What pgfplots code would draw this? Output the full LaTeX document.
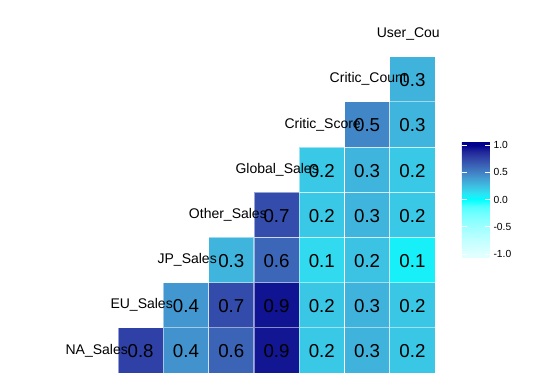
\documentclass[border=0pt]{standalone}
\usepackage{pgfplots}
\pgfplotsset{compat=1.18}
\usepackage{fontspec}
\setmainfont{Liberation Sans}
\pgfplotstableread{
x y r lab
1 1 0.77 0.8
2 1 0.43 0.4
3 1 0.63 0.6
4 1 0.93 0.9
5 1 0.21 0.2
6 1 0.30 0.3
7 1 0.22 0.2
2 2 0.41 0.4
3 2 0.73 0.7
4 2 0.94 0.9
5 2 0.22 0.2
6 2 0.30 0.3
7 2 0.22 0.2
3 3 0.29 0.3
4 3 0.61 0.6
5 3 0.145 0.1
6 3 0.24 0.2
7 3 0.06 0.1
4 4 0.72 0.7
5 4 0.21 0.2
6 4 0.29 0.3
7 4 0.21 0.2
5 5 0.21 0.2
6 5 0.29 0.3
7 5 0.21 0.2
6 6 0.48 0.5
7 6 0.29 0.3
7 7 0.30 0.3
}\corrtable
\pgfplotstableread{
x y name
0.721 1 NA\_Sales
1.714 2 EU\_Sales
2.685 3 JP\_Sales
3.789 4 Other\_Sales
4.937 5 Global\_Sales
5.864 6 Critic\_Score
6.879 7 Critic\_Count
7.608 8 User\_Cou
}\nametable
\begin{document}
\begin{tikzpicture}
\useasboundingbox (0,0) rectangle (544pt,385pt);
\begin{axis}[
  at={(118pt,12pt)}, anchor=south west,
  scale only axis, width=317.1pt, height=361.6pt,
  xmin=0.5, xmax=7.5, ymin=0.5, ymax=8.5,
  axis lines=none, xtick=\empty, ytick=\empty,
  clip=false,
  colormap={corr}{rgb255(0pt)=(224,255,255); rgb255(14pt)=(224,255,255); rgb255(39pt)=(209,255,255); rgb255(64pt)=(193,255,255); rgb255(89pt)=(176,255,255); rgb255(114pt)=(157,255,255); rgb255(139pt)=(136,255,255); rgb255(164pt)=(112,255,255); rgb255(189pt)=(79,255,255); rgb255(214pt)=(0,255,255); rgb255(239pt)=(48,223,241); rgb255(264pt)=(61,191,226); rgb255(289pt)=(66,160,212); rgb255(314pt)=(65,129,197); rgb255(339pt)=(59,100,183); rgb255(364pt)=(50,70,168); rgb255(389pt)=(34,40,154); rgb255(414pt)=(0,0,139); rgb255(428pt)=(0,0,139)},
  point meta min=-1.07, point meta max=1.07,
  colorbar,
  colorbar/width=28pt,
  colorbar shift/.style={xshift=0pt},
  colorbar style={
    at={(parent axis.south east)}, anchor=south west, xshift=26.9pt, yshift=115.2pt,
    x=28pt, y=54.5pt,
    ytick={-1,-0.5,0,0.5,1},
    yticklabel style={font=\fontsize{10.3}{12}\selectfont, /pgf/number format/.cd, fixed, fixed zerofill, precision=1, assume math mode=true},
    yticklabel pos=right,
    ytick pos=both,
    tick style={draw=white, line width=0.6pt},
    major tick length=5pt,
    tick align=inside,
    axis line style={draw=none},
  },
]
\addplot[scatter, only marks, mark=square*, mark size=22.6pt,
  point meta=explicit,
  scatter/use mapped color={draw=white, draw opacity=0.5, fill=mapped color},
  mark options={line width=0.8pt},
] table[x=x, y=y, meta=r]{\corrtable};
\addplot[only marks, mark=none,
  point meta=explicit symbolic,
  nodes near coords,
  nodes near coords style={anchor=center, yshift=-1pt, font=\fontsize{18.7}{20}\selectfont, text=black},
] table[x=x, y=y, meta=lab]{\corrtable};
\addplot[only marks, mark=none,
  point meta=explicit symbolic,
  nodes near coords,
  nodes near coords style={anchor=east, inner sep=0pt, font=\fontsize{14}{16}\selectfont, text=black},
] table[x=x, y=y, meta=name]{\nametable};
\end{axis}
\end{tikzpicture}
\end{document}
